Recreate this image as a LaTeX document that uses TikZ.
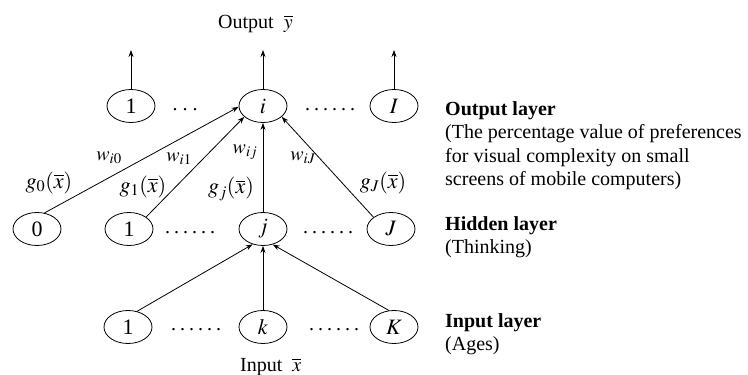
\documentclass[tikz,border=0pt]{standalone}
\usepackage{mathptmx}
\usepackage{fontspec}
\setmainfont{Liberation Serif}
\usetikzlibrary{arrows.meta,shapes.geometric}
\newcommand\sixdots{.\kern4pt.\kern4pt.\kern4pt.\kern4pt.\kern4pt.}
\newcommand\threedots{.\kern5pt.\kern5pt.}
\begin{document}
\begin{tikzpicture}[x=1pt,y=-1pt,
  base/.style={font=\fontsize{20}{23.5}\selectfont},
  big/.style={font=\fontsize{22}{26}\selectfont},
  neuron/.style={big,draw,ellipse,line width=0.8pt,minimum width=48pt,minimum height=33pt,inner sep=0pt},
  conn/.style={line width=0.8pt,-{Stealth[length=7pt,width=5pt]}},
  lbl/.style={big,inner sep=0pt},
  wlbl/.style={base,inner sep=0pt},
  dotsnode/.style={base,inner sep=0pt,anchor=base}]
\useasboundingbox[fill=white] (0,0) rectangle (748,375);
% output layer
\node[neuron] (o1) at (131,106) {1};
\node[neuron] (oi) at (263,106) {$i$};
\node[neuron] (oI) at (394,106) {$I$};
\node[dotsnode] (od1) at (185,110) {\threedots};
\node[dotsnode] (od2) at (330,110) {\sixdots};
\coordinate (t1) at (131,50);
\coordinate (ti) at (263,50);
\coordinate (tI) at (394,50);
\draw[conn] (o1) -- (t1);
\draw[conn] (oi) -- (ti);
\draw[conn] (oI) -- (tI);
\node[base,anchor=base west,inner sep=0pt] (outlbl) at (218,28) {Output\ \ $\overline{y}$};
% hidden layer
\node[neuron] (h0) at (37,229) {0};
\node[neuron] (h1) at (129,229) {1};
\node[neuron] (hj) at (263,229) {$j$};
\node[neuron] (hJ) at (391,229) {$J$};
\node[dotsnode] (hd1) at (190,233) {\sixdots};
\node[dotsnode] (hd2) at (328,233) {\sixdots};
% input layer
\node[neuron] (i1) at (128,327) {1};
\node[neuron] (ik) at (263,327) {$k$};
\node[neuron] (iK) at (394,327) {$K$};
\node[dotsnode] (id1) at (196,330) {\sixdots};
\node[dotsnode] (id2) at (334,330) {\sixdots};
\node[base,anchor=base west,inner sep=0pt] (inlbl) at (240,371) {Input\ \ $\overline{x}$};
% connections
\draw[conn] (h0.65) -- (oi.182);
\draw[conn] (h1.35) -- (oi.210);
\draw[conn] (hj) -- (oi);
\draw[conn] (hJ.146) -- (oi.330);
\draw[conn] (i1.60) -- (hj.236);
\draw[conn] (ik) -- (hj);
\draw[conn] (iK.107) -- (hj.302);
% weight labels
\node[wlbl] (w0) at (109,158) {$w_{i0}$};
\node[wlbl] (w1) at (179,159) {$w_{i1}$};
\node[wlbl] (wj) at (245,152) {$w_{ij}$};
\node[wlbl] (wJ) at (303,158) {$w_{iJ}$};
\node[lbl] (g0) at (49,183) {$g_0(\overline{x})$};
\node[lbl] (g1) at (143,187) {$g_1(\overline{x})$};
\node[lbl] (gj) at (231,189) {$g_j(\overline{x})$};
\node[lbl] (gJ) at (383,183) {$g_J(\overline{x})$};
% layer descriptions
\node[base,anchor=base west,align=left,inner sep=0pt] (outdesc) at (445,185.5)
  {\textbf{Output layer}\\(The percentage value of preferences\\for visual complexity on small\\screens of mobile computers)};
\node[base,anchor=base west,align=left,inner sep=0pt] (hiddesc) at (445,253.5)
  {\textbf{Hidden layer}\\(Thinking)};
\node[base,anchor=base west,align=left,inner sep=0pt] (indesc) at (445,350.5)
  {\textbf{Input layer}\\(Ages)};
\end{tikzpicture}
\end{document}
